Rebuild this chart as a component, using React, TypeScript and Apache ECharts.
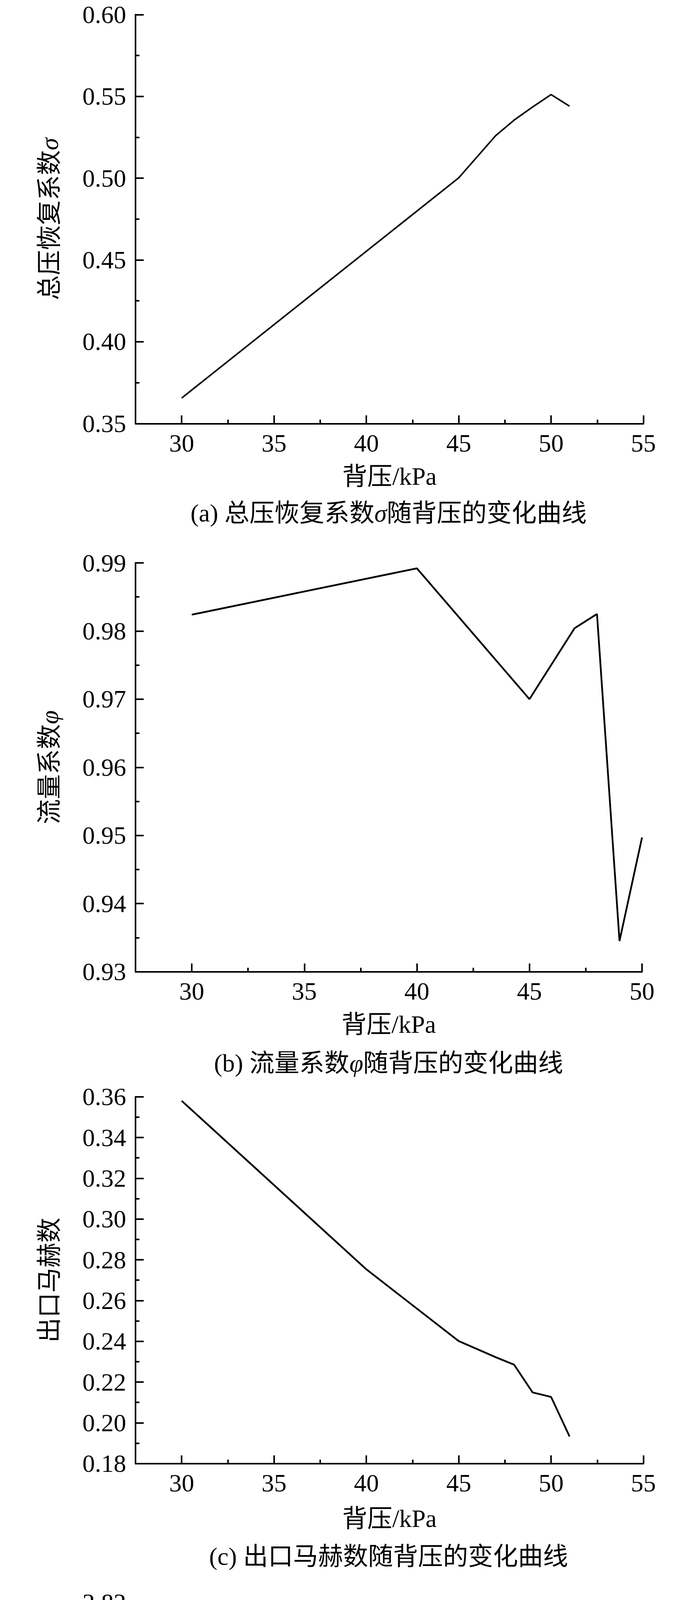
import React, { useEffect, useRef } from 'react';
import * as echarts from 'echarts';

const FONT = '"Liberation Serif", "Noto Sans CJK SC", serif';

// Shared x axis
const X_MIN = 27.5;
const xTicksLong = [30, 35, 40, 45, 50, 55];
const xMinorLong = [32.5, 37.5, 42.5, 47.5, 52.5];
const xTicksShort = [30, 35, 40, 45, 50];
const xMinorShort = [32.5, 37.5, 42.5, 47.5];
const xName = '背压/kPa';

// (a) total pressure recovery coefficient sigma
const xA = [30, 45, 47, 48, 49, 50, 51];
const yA = [0.3656, 0.5002, 0.526, 0.5355, 0.5435, 0.5511, 0.544];

// (b) flow coefficient phi
const xB = [30, 40, 45, 47, 48, 49, 50];
const yB = [0.9824, 0.9892, 0.97, 0.9804, 0.9825, 0.9345, 0.9497];

// (c) outlet Mach number
const xC = [30, 40, 45, 47, 48, 49, 50, 51];
const yC = [0.358, 0.2753, 0.2401, 0.2322, 0.2285, 0.2149, 0.2127, 0.1933];

// (d) temperature rise ratio psi
const xD = [30, 40, 45, 47, 48, 49, 50];
const yD = [2.6893, 2.7461, 2.7419, 2.7581, 2.7635, 2.8049, 2.7714];

const panels = [
  {
    xs: xA, ys: yA, xMax: 55, xTicks: xTicksLong, xMinor: xMinorLong,
    yMin: 0.35, yMax: 0.6, yInt: 0.05,
    grid: { left: 347, top: 37.3, width: 1300.6, height: 1047 },
    yName: '{t|总压恢复系数}{i|σ}', nameGapX: 103,
    caption: '{t|(a) 总压恢复系数}{i|σ}{t|随背压的变化曲线}', capY: 1313, lw: 4,
  },
  {
    xs: xB, ys: yB, xMax: 50, xTicks: xTicksShort, xMinor: xMinorShort,
    yMin: 0.93, yMax: 0.99, yInt: 0.01,
    grid: { left: 347, top: 1441, width: 1297, height: 1046.5 },
    yName: '{t|流量系数}{i|φ}', nameGapX: 103,
    caption: '{t|(b) 流量系数}{i|φ}{t|随背压的变化曲线}', capY: 2721, lw: 4.5,
  },
  {
    xs: xC, ys: yC, xMax: 55, xTicks: xTicksLong, xMinor: xMinorLong,
    yMin: 0.18, yMax: 0.36, yInt: 0.02,
    grid: { left: 347, top: 2807.7, width: 1300.6, height: 939 },
    yName: '{t|出口马赫数}', nameGapX: 109,
    caption: '{t|(c) 出口马赫数随背压的变化曲线}', capY: 3984, lw: 4.5,
  },
  {
    xs: xD, ys: yD, xMax: 55, xTicks: xTicksLong, xMinor: xMinorLong,
    yMin: 2.68, yMax: 2.82, yInt: 0.02,
    grid: { left: 347, top: 4102.7, width: 1300.6, height: 1050 },
    yName: '{t|温升比}{i|ψ}', nameGapX: 103,
    caption: '{t|(d) 温升比}{i|ψ}{t|随背压的变化曲线}', capY: 5385, lw: 4.5,
  },
];

const black = '#000';
const richStyle = {
  t: { fontSize: 64, fontFamily: FONT, color: black },
  i: { fontSize: 64, fontFamily: FONT, color: black, fontStyle: 'italic' },
};
const graphicRich = {
  t: { fontSize: 64, fontFamily: FONT, fill: black, color: black },
  i: { fontSize: 64, fontFamily: FONT, fill: black, color: black, fontStyle: 'italic' },
};

function buildOption() {
  const grid: any[] = [];
  const xAxis: any[] = [];
  const yAxis: any[] = [];
  const series: any[] = [];
  const graphic: any[] = [];
  const n = panels.length;

  panels.forEach((p, i) => {
    grid.push({ ...p.grid, containLabel: false });
    xAxis.push({
      gridIndex: i,
      type: 'value',
      min: X_MIN,
      max: p.xMax,
      position: 'bottom',
      axisLine: { show: true, onZero: false, lineStyle: { color: black, width: 4 } },
      axisTick: { show: true, inside: true, length: 21, customValues: p.xTicks, lineStyle: { color: black, width: 4 } },
      axisLabel: { show: true, customValues: p.xTicks, margin: 18, fontSize: 64, fontFamily: FONT, color: black },
      splitLine: { show: false },
      name: xName,
      nameLocation: 'middle',
      nameGap: p.nameGapX,
      nameTextStyle: { fontSize: 64, fontFamily: FONT, color: black },
    });
    yAxis.push({
      gridIndex: i,
      type: 'value',
      min: p.yMin,
      max: p.yMax,
      interval: p.yInt,
      axisLine: { show: true, onZero: false, lineStyle: { color: black, width: 4 } },
      axisTick: { show: true, inside: true, length: 21, lineStyle: { color: black, width: 4 } },
      minorTick: { show: true, splitNumber: 2, length: 10, lineStyle: { color: black, width: 4 } },
      splitLine: { show: false },
      minorSplitLine: { show: false },
      axisLabel: {
        margin: 24, fontSize: 64, fontFamily: FONT, color: black,
        formatter: (v: number) => v.toFixed(2),
      },
      name: p.yName,
      nameLocation: 'middle',
      nameRotate: 90,
      nameGap: 189,
      nameTextStyle: { fontSize: 64, fontFamily: FONT, color: black, rich: richStyle },
    });
    series.push({
      type: 'line',
      xAxisIndex: i,
      yAxisIndex: i,
      data: p.xs.map((x, k) => [x, p.ys[k]]),
      showSymbol: false,
      symbol: 'none',
      silent: true,
      lineStyle: { color: black, width: p.lw },
    });
    graphic.push({
      type: 'text',
      x: 995,
      y: p.capY,
      style: {
        text: p.caption,
        rich: graphicRich,
        fontSize: 64,
        fontFamily: FONT,
        fill: black,
        align: 'center',
        verticalAlign: 'middle',
        textAlign: 'center',
        textVerticalAlign: 'middle',
      },
    });
  });

  // minor x ticks
  panels.forEach((p, i) => {
    xAxis.push({
      gridIndex: i,
      type: 'value',
      min: X_MIN,
      max: p.xMax,
      position: 'bottom',
      axisLine: { show: false, onZero: false },
      axisTick: { show: true, inside: true, length: 10, customValues: p.xMinor, lineStyle: { color: black, width: 4 } },
      axisLabel: { show: false },
      splitLine: { show: false },
    });
  });

  return {
    animation: false,
    backgroundColor: '#fff',
    grid,
    xAxis,
    yAxis,
    series,
    graphic,
  };
}

export default function App() {
  const ref = useRef<HTMLDivElement>(null);
  useEffect(() => {
    if (!ref.current) return;
    const chart = echarts.init(ref.current, undefined, { renderer: 'svg' });
    chart.setOption(buildOption() as any);
    return () => chart.dispose();
  }, []);
  return (
    <div
      ref={ref}
      style={{ position: 'absolute', left: 0, top: 0, width: 1772, height: 5431, background: '#fff' }}
    />
  );
}
